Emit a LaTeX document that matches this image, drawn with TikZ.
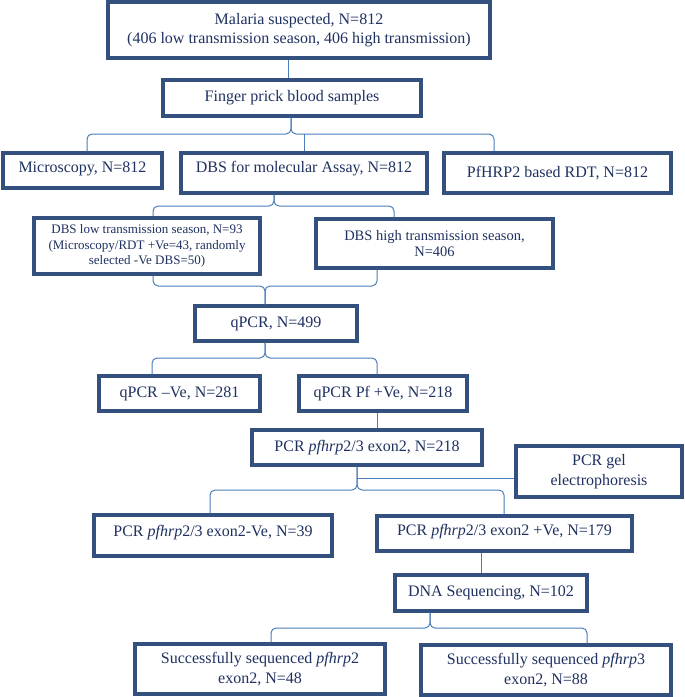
\documentclass[tikz,border=0pt]{standalone}
\usepackage{fontspec}
\setmainfont{Liberation Serif}
\definecolor{boxcol}{HTML}{34507E}
\definecolor{txtcol}{HTML}{1F3160}
\definecolor{linecol}{HTML}{4A7EBB}
\newcommand{\upby}[2]{\raisebox{#1}[\height][\depth]{#2}}
\begin{document}
\begin{tikzpicture}[x=1pt,y=-1pt,
  box/.style={draw=boxcol, line width=3.1pt, fill=white, text=txtcol, align=center,
    inner sep=0pt, font=\fontsize{16}{19}\selectfont},
  conn/.style={draw=linecol, line width=1pt},
  brc/.style={conn, rounded corners=5pt}]
\useasboundingbox (0,0) rectangle (685,697);

\node[box, minimum width=382, minimum height=56] (mal) at (299,30) {Malaria suspected, N=812\\(406 low transmission season, 406 high transmission)};
\node[box, minimum width=258, minimum height=36] (fin) at (292,98) {Finger prick blood samples};
\node[box, minimum width=159, minimum height=35] (mic) at (82.5,170.5) {\upby{2pt}{Microscopy, N=812}};
\node[box, minimum width=246, minimum height=40] (dbs) at (304,173) {\upby{4pt}{DBS for molecular Assay, N=812}};
\node[box, minimum width=227, minimum height=40] (rdt) at (557.5,173) {PfHRP2 based RDT, N=812};
\node[box, minimum width=226, minimum height=56, font=\fontsize{13}{15.5}\selectfont] (low) at (147,246) {DBS low transmission season, N=93\\(Microscopy/RDT +Ve=43, randomly\\selected -Ve DBS=50)};
\node[box, minimum width=237, minimum height=49, font=\fontsize{14.5}{16}\selectfont] (high) at (434.5,243.5) {DBS high transmission season,\\N=406};
\node[box, minimum width=162, minimum height=35] (qpcr) at (276,323.5) {qPCR, N=499};
\node[box, minimum width=161, minimum height=35] (neg) at (179.5,393.5) {qPCR –Ve, N=281};
\node[box, minimum width=168, minimum height=35] (pos) at (383,393.5) {qPCR Pf +Ve, N=218};
\node[box, minimum width=230, minimum height=35] (pcr) at (367,447.5) {PCR \textit{pfhrp}2/3 exon2, N=218};
\node[box, minimum width=166, minimum height=51, font=\fontsize{16}{20}\selectfont] (gel) at (599,471.5) {PCR gel\\electrophoresis};
\node[box, minimum width=238, minimum height=41] (pneg) at (213,535.5) {\upby{3pt}{PCR \textit{pfhrp}2/3 exon2-Ve, N=39}};
\node[box, minimum width=255, minimum height=35] (ppos) at (504.5,533.5) {\upby{1.5pt}{PCR \textit{pfhrp}2/3 exon2 +Ve, N=179}};
\node[box, minimum width=192, minimum height=36] (dna) at (491,593) {DNA Sequencing, N=102};
\node[box, minimum width=250, minimum height=50, font=\fontsize{16}{20}\selectfont] (s2) at (260,669) {Successfully sequenced \textit{pfhrp}2\\exon2, N=48};
\node[box, minimum width=250, minimum height=50, font=\fontsize{16}{20}\selectfont] (s3) at (546,670) {Successfully sequenced \textit{pfhrp}3\\exon2, N=88};

% connectors
\draw[conn] (mal.south -| 288,0) -- (fin.north -| 288,0);
% brace 1
\draw[brc] (mic.north -| 87,0) |- (291,134) -- (fin.south -| 291,0);
\draw[brc] (rdt.north -| 494,0) |- (291,134) -- (fin.south -| 291,0);
\draw[conn] (304,134) -- (dbs.north -| 304,0);
% brace 2
\draw[brc] (low.north -| 153,0) |- (274,206) -- (dbs.south -| 274,0);
\draw[brc] (high.north -| 394,0) |- (274,206) -- (dbs.south -| 274,0);
% brace 3
\draw[brc] (low.south -| 153,0) |- (265,286) -- (qpcr.north -| 265,0);
\draw[brc] (high.south -| 377,0) |- (265,286) -- (qpcr.north -| 265,0);
% brace 4
\draw[brc] (neg.north -| 152,0) |- (265,358) -- (qpcr.south -| 265,0);
\draw[brc] (pos.north -| 377,0) |- (265,358) -- (qpcr.south -| 265,0);
% pos -> pcr
\draw[conn] (pos.south -| 377,0) -- (pcr.north -| 377,0);
% brace 5
\draw[brc] (pneg.north -| 210,0) |- (357,490) -- (pcr.south -| 357,0);
\draw[brc] (ppos.north -| 504,0) |- (357,490) -- (pcr.south -| 357,0);
\coordinate (gj) at (357,478);
\draw[conn] (gj) -- (gj -| gel.west);
% ppos -> dna
\draw[conn] (ppos.south -| 481,0) -- (dna.north -| 481,0);
% brace 6
\draw[brc] (s2.north -| 271,0) |- (430,628) -- (dna.south -| 430,0);
\draw[brc] (s3.north -| 587,0) |- (430,628) -- (dna.south -| 430,0);
\end{tikzpicture}
\end{document}
